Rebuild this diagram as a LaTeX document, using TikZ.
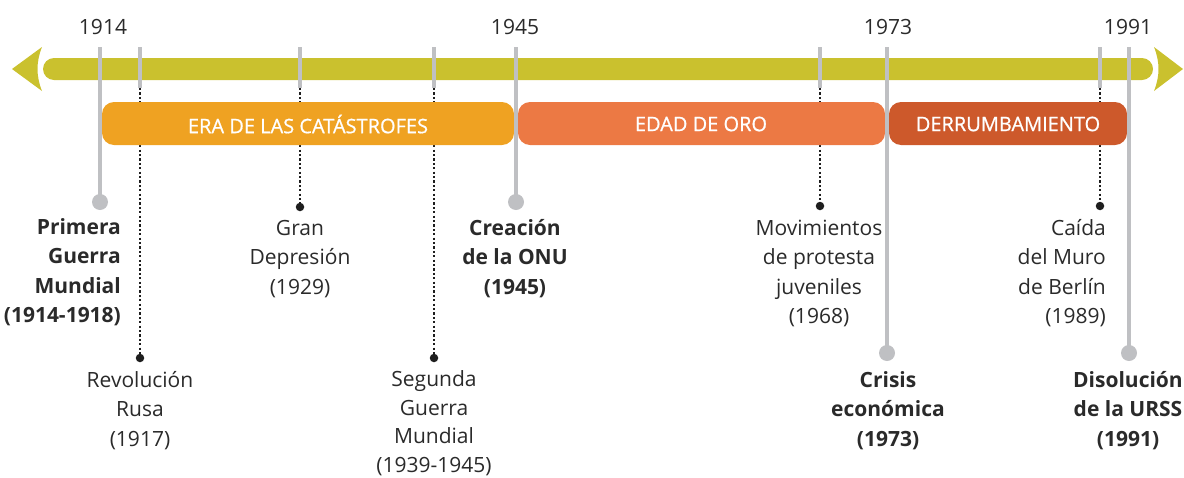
\documentclass[tikz,border=0pt]{standalone}
\usepackage{fontspec}
\setmainfont{Open Sans}
\newfontface\bandface{Open Sans}[FakeBold=0.8]
\definecolor{olive}{HTML}{CAC12E}
\definecolor{eraorange}{HTML}{EFA222}
\definecolor{orosalmon}{HTML}{EC7944}
\definecolor{derrust}{HTML}{CD592B}
\definecolor{tickgray}{HTML}{BFC0C3}
\definecolor{txt}{HTML}{2A2A2A}
\definecolor{dotcol}{HTML}{1E1E1E}
\tikzset{
  yearlbl/.style={font=\fontsize{21pt}{25pt}\selectfont, text=txt, inner sep=0pt, anchor=base},
  bandbox/.style={rounded corners=12pt, draw=none},
  bandtxt/.style={font=\bandface\fontsize{20pt}{22pt}\selectfont, text=white, inner sep=0pt},
  evlbl/.style={font=\fontsize{21pt}{29.5pt}\selectfont, text=txt, inner sep=0pt, align=center, anchor=base},
  evbold/.style={evlbl, font=\fontsize{21pt}{29.5pt}\selectfont\bfseries},
  longtick/.style={draw=tickgray, line width=3.2pt},
  shorttick/.style={draw=tickgray, line width=3.2pt},
  dotline/.style={draw=dotcol, line width=2.6pt, dash pattern=on 2.2pt off 2.2pt},
  graydot/.style={circle, fill=tickgray, minimum size=16pt, inner sep=0pt},
  blackdot/.style={circle, fill=dotcol, minimum size=8.5pt, inner sep=0pt},
}
\begin{document}
\begin{tikzpicture}[x=1pt, y=-1pt]
\useasboundingbox (0,0) rectangle (1184,477);
% main bar with arrowheads
\fill[olive, rounded corners=11pt] (43,58) rectangle (1153,80);
\fill[olive] (12,69) -- (42,47) .. controls (36,62) and (36,76) .. (42,91) -- cycle;
\fill[olive] (1183,69) -- (1154,47) .. controls (1160,62) and (1160,76) .. (1154,91) -- cycle;
% dotted connectors (behind bands)
\coordinate (t17) at (140,88);
\coordinate (t29) at (300,88);
\coordinate (t39) at (434,88);
\coordinate (t68) at (820,88);
\coordinate (t89) at (1100,88);
\node[blackdot] (d17) at (140,358) {};
\node[blackdot] (d29) at (300,207) {};
\node[blackdot] (d39) at (434,358) {};
\node[blackdot] (d68) at (820,206) {};
\node[blackdot] (d89) at (1100,206) {};
\draw[dotline] (t17) -- (d17.center);
\draw[dotline] (t29) -- (d29.center);
\draw[dotline] (t39) -- (d39.center);
\draw[dotline] (t68) -- (d68.center);
\draw[dotline] (t89) -- (d89.center);
% bands
\fill[bandbox, eraorange] (102,102) rectangle (514,145);
\fill[bandbox, orosalmon] (518,102) rectangle (885,145);
\fill[bandbox, derrust] (889,102) rectangle (1127,145);
\node[bandtxt] (era) at (308,124) {ERA DE LAS CATÁSTROFES};
\node[bandtxt] (oro) at (701,124) {EDAD DE ORO};
\node[bandtxt] (der) at (1008,124) {DERRUMBAMIENTO};
% short ticks
\coordinate (s17) at (140,47);
\coordinate (s29) at (300,47);
\coordinate (s39) at (434,47);
\coordinate (s68) at (820,47);
\coordinate (s89) at (1100,47);
\draw[shorttick] (s17) -- (t17);
\draw[shorttick] (s29) -- (t29);
\draw[shorttick] (s39) -- (t39);
\draw[shorttick] (s68) -- (t68);
\draw[shorttick] (s89) -- (t89);
% long ticks with gray dots
\coordinate (l14) at (100,47);
\coordinate (l45) at (516,47);
\coordinate (l73) at (887,47);
\coordinate (l91) at (1129,47);
\node[graydot] (g14) at (100,202) {};
\node[graydot] (g45) at (516,202) {};
\node[graydot] (g73) at (887,353) {};
\node[graydot] (g91) at (1129,353) {};
\draw[longtick] (l14) -- (g14.center);
\draw[longtick] (l45) -- (g45.center);
\draw[longtick] (l73) -- (g73.center);
\draw[longtick] (l91) -- (g91.center);
% year labels
\node[yearlbl] (y14) at (103,34) {1914};
\node[yearlbl] (y45) at (515,34) {1945};
\node[yearlbl] (y73) at (888,34) {1973};
\node[yearlbl] (y91) at (1128,34) {1991};
% event labels (base anchor = last line's baseline)
\node[evbold, align=right, anchor=base east] (e14) at (121,322.5) {Primera\\Guerra\\Mundial\\(1914-1918)};
\node[evlbl] (e17) at (140,446) {Revolución\\Rusa\\(1917)};
\node[evlbl] (e29) at (300,294) {Gran\\Depresión\\(1929)};
\node[evlbl, font=\fontsize{21pt}{28.5pt}\selectfont] (e39) at (434,472) {Segunda\\Guerra\\Mundial\\(1939-1945)};
\node[evbold] (e45) at (515,294) {Creación\\de la ONU\\(1945)};
\node[evlbl] (e68) at (819,323.5) {Movimientos\\de protesta\\juveniles\\(1968)};
\node[evbold] (e73) at (888,446) {Crisis\\económica\\(1973)};
\node[evlbl, align=right, anchor=base east] (e89) at (1106,323.5) {Caída\\del Muro\\de Berlín\\(1989)};
\node[evbold] (e91) at (1128,446) {Disolución\\de la URSS\\(1991)};
\end{tikzpicture}
\end{document}
